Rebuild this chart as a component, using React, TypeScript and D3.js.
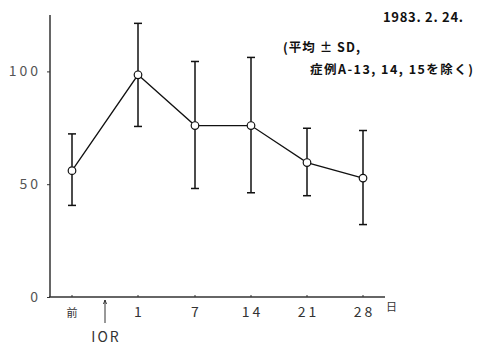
import * as d3 from 'd3';
import React, { useRef, useEffect } from 'react';

// time points (day index used for the polylinear x scale)
const labels = ['前', '1', '7', '14', '21', '28'];
const days = [0, 1, 7, 14, 21, 28];
const means = [56, 98.5, 76, 76, 59.6, 52.7];
const upper = [72.3, 121.3, 104.4, 106.2, 74.8, 73.8];
const lower = [40.6, 75.6, 48.1, 46.2, 44.9, 32.1];
const yTicks = [0, 50, 100];
const iorDay = 0.5;

const W = 480;
const H = 346;
const FONT = '"Noto Sans CJK JP", "DejaVu Sans", sans-serif';

function App() {
  const ref = useRef<SVGSVGElement>(null);

  useEffect(() => {
    const svg = d3.select(ref.current);
    svg.selectAll('*').remove();

    const x = d3.scaleLinear().domain([0, 1, 7, 28]).range([72, 138, 195, 363]);
    const y = d3.scaleLinear().domain([0, 125]).range([297, 15]);

    // y axis
    const yAxis = d3.axisLeft(y).tickValues(yTicks).tickSize(3).tickPadding(6);
    const gy = svg.append('g').attr('transform', 'translate(50,0)').call(yAxis);
    gy.select('.domain').attr('stroke', '#333').attr('stroke-width', 1.5).attr('d', `M0,${y(125)}V${y(0)}`);
    gy.selectAll('.tick line').attr('stroke', '#333');
    gy.selectAll('.tick text')
      .attr('font-family', FONT)
      .attr('font-size', 14)
      .attr('fill', '#555')
      .attr('letter-spacing', 3);

    // x axis line
    svg.append('line')
      .attr('x1', 49).attr('x2', 385)
      .attr('y1', y(0)).attr('y2', y(0))
      .attr('stroke', '#333').attr('stroke-width', 1.5);

    const gx = svg.append('g');
    gx.selectAll('line.xt').data(days).enter().append('line')
      .attr('x1', d => x(d)).attr('x2', d => x(d))
      .attr('y1', y(0) - 2).attr('y2', y(0))
      .attr('stroke', '#333');
    gx.selectAll('text.xl').data(labels).enter().append('text')
      .attr('x', (d, i) => x(days[i]) + (i === 0 ? 0 : 1.5))
      .attr('y', y(0) + 20)
      .attr('text-anchor', 'middle')
      .attr('font-family', FONT)
      .attr('font-size', (d, i) => (i === 0 ? 11 : 14))
      .attr('letter-spacing', (d, i) => (i === 0 ? 0 : 3))
      .attr('fill', '#333')
      .text(d => d);
    gx.append('text')
      .attr('x', 386).attr('y', y(0) + 14)
      .attr('font-family', FONT).attr('font-size', 11).attr('fill', '#333')
      .text('日');

    // IOR arrow
    svg.append('line')
      .attr('x1', x(iorDay)).attr('x2', x(iorDay))
      .attr('y1', y(0) + 3).attr('y2', y(0) + 26)
      .attr('stroke', '#333').attr('stroke-width', 1);
    svg.append('path')
      .attr('d', `M${x(iorDay) - 1.5},${y(0) + 7}L${x(iorDay)},${y(0) + 3}L${x(iorDay) + 1.5},${y(0) + 7}`)
      .attr('fill', 'none').attr('stroke', '#333');
    svg.append('text')
      .attr('x', x(iorDay) + 1).attr('y', y(0) + 45)
      .attr('text-anchor', 'middle')
      .attr('font-family', FONT).attr('font-size', 14).attr('letter-spacing', 2).attr('fill', '#333')
      .text('IOR');

    // error bars
    const eb = svg.append('g').attr('stroke', '#111').attr('stroke-width', 1.5);
    days.forEach((d, i) => {
      eb.append('line').attr('x1', x(d)).attr('x2', x(d)).attr('y1', y(upper[i])).attr('y2', y(lower[i]));
      eb.append('line').attr('x1', x(d) - 4).attr('x2', x(d) + 4).attr('y1', y(upper[i])).attr('y2', y(upper[i]));
      eb.append('line').attr('x1', x(d) - 4).attr('x2', x(d) + 4).attr('y1', y(lower[i])).attr('y2', y(lower[i]));
    });

    // mean line
    const ln = d3.line<number>().x((d, i) => x(days[i])).y(d => y(d));
    svg.append('path').datum(means)
      .attr('d', ln)
      .attr('fill', 'none').attr('stroke', '#111').attr('stroke-width', 1.3);
    svg.selectAll('circle').data(means).enter().append('circle')
      .attr('cx', (d, i) => x(days[i])).attr('cy', d => y(d))
      .attr('r', 3.8)
      .attr('fill', '#fff').attr('stroke', '#111').attr('stroke-width', 1.2);

    // annotations
    const note = svg.append('g').attr('font-family', FONT).attr('fill', '#111').attr('font-weight', 'bold');
    note.append('text').attr('x', 383).attr('y', 22)
      .attr('font-size', 13).attr('textLength', 80).attr('lengthAdjust', 'spacing')
      .text('1983. 2. 24.');
    note.append('text').attr('x', 283).attr('y', 52)
      .attr('font-size', 12.5).attr('textLength', 77).attr('lengthAdjust', 'spacing')
      .text('(平均 ± SD,');
    note.append('text').attr('x', 310).attr('y', 74)
      .attr('font-size', 12.5).attr('textLength', 163).attr('lengthAdjust', 'spacing')
      .text('症例A-13, 14, 15を除く)');
  }, []);

  return (
    <svg
      ref={ref}
      width={W}
      height={H}
      style={{ position: 'absolute', left: 0, top: 0, background: '#fff' }}
    />
  );
}

export default App;
